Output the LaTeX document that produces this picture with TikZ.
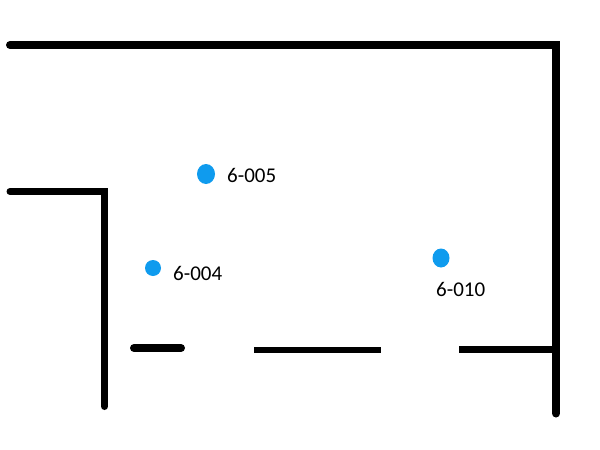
\documentclass[tikz,border=0pt]{standalone}
\usepackage{fontspec}
\setmainfont{Carlito}
\usepackage{tikz}
\usetikzlibrary{positioning,shapes.geometric}
\definecolor{pin}{HTML}{0F9BEE}
\begin{document}
\begin{tikzpicture}
                    [x=1pt,y=-1pt,
                    wall/.style={draw=black, line width=#1, line cap=round, line join=miter},
                    stub/.style={draw=black, line width=#1, line cap=butt},
                    spot/.style={ellipse, fill=pin, inner sep=0pt},
                    tag/.style={inner sep=0pt, font=\fontsize{21}{24}\selectfont}]
                    
                    \useasboundingbox (0,0) rectangle (600,450);
                    
                    \draw[wall=8pt] (10,45) -- (556,45) -- (556,413.5);
                    \draw[wall=7pt] (10,191.5) -- (104.5,191.5) -- (104.5,406.5);
                    \draw[wall=8pt] (134,348) -- (181,348);
                    \draw[stub=6pt] (254,350) -- (381,350);
                    \draw[stub=7pt] (459,349.5) -- (556,349.5);
                    
                    \node[spot, minimum width=18pt, minimum height=20pt] (p5) at (206,174) {};
                    \node[spot, minimum width=16pt, minimum height=16pt] (p4) at (153,268) {};
                    \node[spot, minimum width=17pt, minimum height=19pt] (p10) at (441,258) {};
                    
                    \node[tag, anchor=west] (l5) at (227,175) {6-005};
                    \node[tag, anchor=west] (l4) at (173,273) {6-004};
                    \node[tag, anchor=west] (l10) at (436,289) {6-010};
                \end{tikzpicture}
\end{document}
